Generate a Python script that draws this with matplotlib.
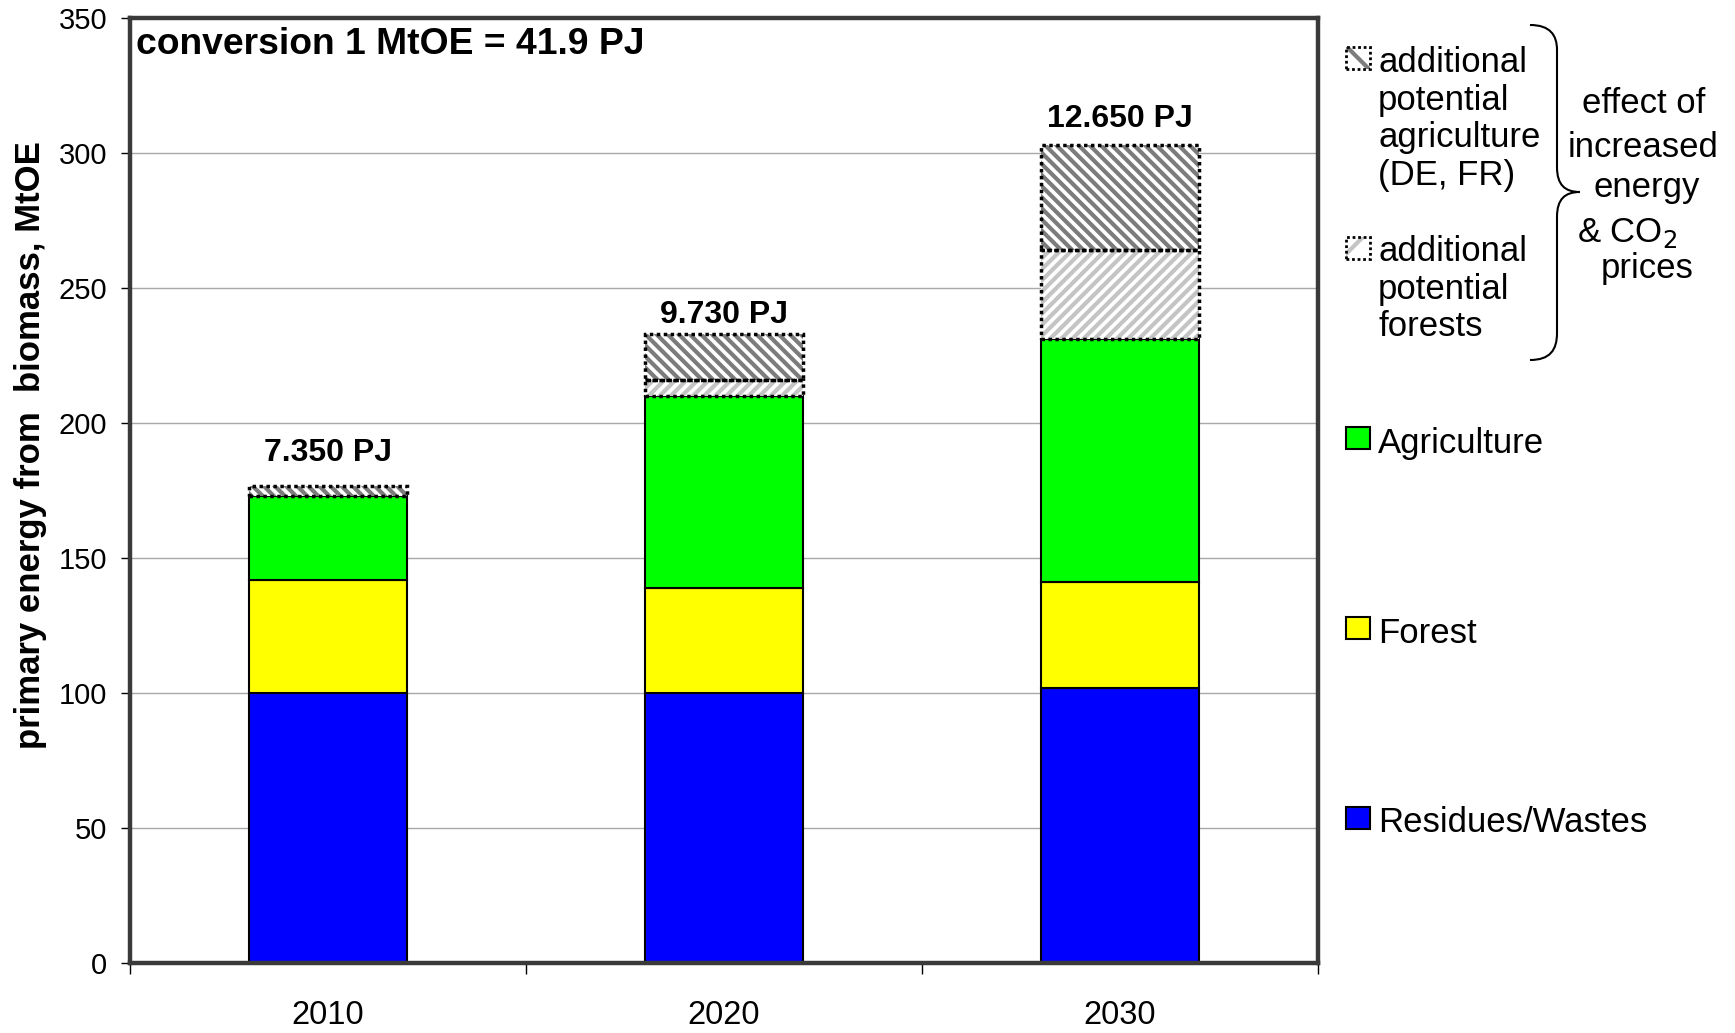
import numpy as np
import matplotlib.pyplot as plt
from matplotlib.patches import Rectangle, PathPatch
from matplotlib.path import Path

plt.rcParams['font.family'] = ['Liberation Sans', 'DejaVu Sans']
plt.rcParams['hatch.linewidth'] = 3.0

# biomass potential per year, MtOE
years = ['2010', '2020', '2030']
residues = [100, 100, 102]
forest = [42, 39, 39]
agriculture = [31, 71, 90]
add_forests = [0, 6, 33]
add_agriculture = [3.5, 17, 39]
totals_pj = ['7.350 PJ', '9.730 PJ', '12.650 PJ']
label_pad = [18, 8, 13]

W, H = 1735, 1033


def fx(px):
    return px / W


def fy(py):
    return 1 - py / H


fig = plt.figure(figsize=(W / 100, H / 100), dpi=100)
ax = fig.add_axes([fx(130), fy(963), fx(1318) - fx(130), fy(18) - fy(963)])

x = np.arange(len(years))
w = 0.4
res = np.array(residues, dtype=float)
fo = np.array(forest, dtype=float)
ag = np.array(agriculture, dtype=float)
afo = np.array(add_forests, dtype=float)
aag = np.array(add_agriculture, dtype=float)

ax.bar(x, res, w, color='#0000ff', edgecolor='black', linewidth=1.5, zorder=3)
ax.bar(x, fo, w, bottom=res, color='#ffff00', edgecolor='black', linewidth=1.5, zorder=3)
ax.bar(x, ag, w, bottom=res + fo, color='#00ff00', edgecolor='black', linewidth=1.5, zorder=3)

# hatched extra potential, dotted outline drawn separately
hatch_ag = '\\' * 3
hatch_fo = '/' * 3
b1 = res + fo + ag
b2 = b1 + afo
ax.bar(x, afo, w, bottom=b1, color='white', edgecolor='#c4c4c4', hatch=hatch_fo, linewidth=0, zorder=3)
ax.bar(x, aag, w, bottom=b2, color='white', edgecolor='#7c7c7c', hatch=hatch_ag, linewidth=0, zorder=3)
for h, b in [(afo, b1), (aag, b2)]:
    keep = h > 0
    ax.bar(x[keep], h[keep], w, bottom=b[keep], fill=False, edgecolor='black',
           linewidth=2.5, linestyle=(0, (1, 1)), zorder=4)

top = b2 + aag
for i in range(len(years)):
    ax.annotate(totals_pj[i], (x[i], top[i]), xytext=(0, label_pad[i]),
                textcoords='offset points', ha='center', va='baseline',
                fontsize=23, fontweight='bold')

ax.text(0.005, 0.99, 'conversion 1 MtOE = 41.9 PJ', transform=ax.transAxes,
        ha='left', va='top', fontsize=26.8, fontweight='bold')

ax.set_xlim(-0.5, 2.5)
ax.set_ylim(0, 350)
ax.set_yticks(np.arange(0, 351, 50))
ax.tick_params(axis='y', direction='out', length=6.5, width=1, pad=10, labelsize=21)
ax.set_xticks([-0.5, 0.5, 1.5, 2.5])
ax.set_xticklabels([])
ax.tick_params(axis='x', which='major', direction='out', length=8, width=1)
ax.set_xticks(x, minor=True)
ax.set_xticklabels(years, minor=True)
ax.tick_params(axis='x', which='minor', length=0, pad=27, labelsize=23.5)
ax.grid(axis='y', color='#a8a8a8', linewidth=1, zorder=0)
ax.set_axisbelow(True)
for s in ax.spines.values():
    s.set_color('#3a3a3a')
    s.set_linewidth(3.2)
    s.set_zorder(5)

fig.text(fx(31), fy(445), 'primary energy from  biomass, MtOE', rotation=90,
         ha='center', va='center', fontsize=25, fontweight='bold')

# legend drawn by hand at the right
fs = 25
tx = 1378


def swatch(y0, **kw):
    fig.add_artist(Rectangle((fx(1346), fy(y0 + 22)), fx(24), 22 / H,
                             transform=fig.transFigure, **kw))


swatch(47, facecolor='white', edgecolor='#7c7c7c', hatch='\\', linewidth=0)
swatch(47, fill=False, edgecolor='black', linewidth=2, linestyle=(0, (1, 1)))
swatch(237, facecolor='white', edgecolor='#c4c4c4', hatch='/', linewidth=0)
swatch(237, fill=False, edgecolor='black', linewidth=2, linestyle=(0, (1, 1)))
swatch(427, facecolor='#00ff00', edgecolor='black', linewidth=1.5)
swatch(617, facecolor='#ffff00', edgecolor='black', linewidth=1.5)
swatch(807, facecolor='#0000ff', edgecolor='black', linewidth=1.5)

legend_lines = [
    (['additional', 'potential', 'agriculture', '(DE, FR)'], 72),
    (['additional', 'potential', 'forests'], 261),
    (['Agriculture'], 453),
    (['Forest'], 643),
    (['Residues/Wastes'], 832),
]
for lines, base in legend_lines:
    for k, s in enumerate(lines):
        fig.text(fx(tx), fy(base + k * 37.7), s, ha='left', va='baseline', fontsize=fs)

# brace grouping the two hatched entries
verts = [(1530, 25), (1550, 25), (1557, 35), (1557, 50),
         (1557, 167),
         (1557, 185), (1565, 192), (1580, 192),
         (1565, 192), (1557, 199), (1557, 217),
         (1557, 333),
         (1557, 350), (1550, 360), (1530, 360)]
codes = [Path.MOVETO, Path.CURVE4, Path.CURVE4, Path.CURVE4,
         Path.LINETO,
         Path.CURVE4, Path.CURVE4, Path.CURVE4,
         Path.CURVE4, Path.CURVE4, Path.CURVE4,
         Path.LINETO,
         Path.CURVE4, Path.CURVE4, Path.CURVE4]
brace = Path([(fx(a), fy(b)) for a, b in verts], codes)
fig.add_artist(PathPatch(brace, fill=False, edgecolor='black', linewidth=1.5,
                         transform=fig.transFigure))

effect = [('effect of', 1644, 113), ('increased', 1643, 157), ('energy', 1647, 197),
          ('& CO$_2$', 1627, 242), ('prices', 1647, 278)]
for s, cx, base in effect:
    fig.text(fx(cx), fy(base), s, ha='center', va='baseline', fontsize=fs)

fig.savefig('out.png', dpi=100)
